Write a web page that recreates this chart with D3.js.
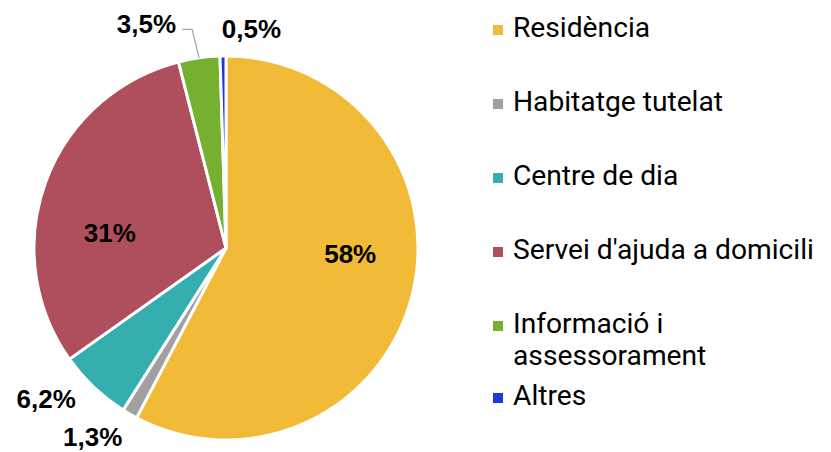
<!DOCTYPE html>
<html>
<head>
<meta charset="utf-8">
<script src="https://cdn.jsdelivr.net/npm/d3@7"></script>
<style>
  body { margin: 0; background: #fff; }
  svg { display: block; }
</style>
</head>
<body>
<div id="chart"></div>
<script>
// data
var categories = ["Residència", "Habitatge tutelat", "Centre de dia", "Servei d'ajuda a domicili", "Informació i assessorament", "Altres"];
var values = [58, 1.3, 6.2, 31, 3.5, 0.5];
var legendLines = [["Residència"], ["Habitatge tutelat"], ["Centre de dia"], ["Servei d'ajuda a domicili"], ["Informació i", "assessorament"], ["Altres"]];
var colors = ["#F1BA37", "#A0A0A0", "#34AEAE", "#AF4F5D", "#76B031", "#2036D8"];

var width = 831, height = 452;
var cx = 226, cy = 248, radius = 192;

var svg = d3.select("#chart")
  .append("svg")
    .attr("width", width)
    .attr("height", height);

var color = d3.scaleOrdinal().domain(categories).range(colors);

var pie = d3.pie()
    .sort(null)
    .value(function(d) { return d.value; });

var data = categories.map(function(c, i) { return {name: c, value: values[i]}; });
var arcs = pie(data);

var arc = d3.arc().innerRadius(0).outerRadius(radius);

var g = svg.append("g")
    .attr("transform", "translate(" + cx + "," + cy + ")");

g.selectAll("path")
  .data(arcs)
  .enter()
  .append("path")
    .attr("d", arc)
    .attr("fill", function(d) { return color(d.data.name); })
    .attr("stroke", "#fff")
    .attr("stroke-width", 3)
    .attr("stroke-linejoin", "round");

// number format with comma decimals
var fmt = function(v) {
  return (v >= 10 ? d3.format(".0f")(v) : d3.format(".1f")(v).replace(".", ",")) + "%";
};

// label placement: inside or outside, plus small nudges
var place = [
  {out: false, dx: 4, dy: -24},
  {out: true, dx: -17, dy: -12},
  {out: true, dx: -20, dy: -18},
  {out: false, dx: 0, dy: 27},
  {out: true, dx: -47, dy: 5, leader: true},
  {out: true, dx: 29, dy: 13}
];

var inArc = d3.arc().innerRadius(0).outerRadius(radius * 1.29);
var outArc = d3.arc().innerRadius(radius + 40).outerRadius(radius + 40);
var edgeArc = d3.arc().innerRadius(radius).outerRadius(radius);

arcs.forEach(function(d, i) {
  var p = place[i];
  var c = p.out ? outArc.centroid(d) : inArc.centroid(d);
  var x = c[0] + p.dx, y = c[1] + p.dy;
  var t = g.append("text")
    .attr("x", x)
    .attr("y", y)
    .attr("dy", "0.36em")
    .attr("text-anchor", "middle")
    .style("font-family", "'Liberation Sans', Arial, sans-serif")
    .style("font-weight", "bold")
    .style("font-size", "26px")
    .style("fill", "#000")
    .text(fmt(d.data.value));
  if (p.leader) {
    var bb = t.node().getBBox();
    var e = edgeArc.centroid(d);
    var right = bb.x + bb.width;
    g.append("polyline")
      .attr("points", [e, [right + 16, y + 6], [right + 6, y + 6]].map(function(q) { return q.join(","); }).join(" "))
      .attr("fill", "none")
      .attr("stroke", "#A6A6A6")
      .attr("stroke-width", 1.3);
  }
});

// legend
var legend = svg.append("g")
    .attr("transform", "translate(493, 37)");

var rowY = 0;
legendLines.forEach(function(lines, i) {
  var row = legend.append("g").attr("transform", "translate(0," + rowY + ")");
  row.append("rect")
    .attr("x", 0)
    .attr("y", -12)
    .attr("width", 10)
    .attr("height", 10)
    .attr("fill", color(categories[i]));
  var txt = row.append("text")
    .attr("x", 20)
    .attr("y", 0)
    .style("font-family", "Roboto, sans-serif")
    .style("font-size", "28.2px")
    .style("fill", "#000");
  lines.forEach(function(l, j) {
    txt.append("tspan")
      .attr("x", 20)
      .attr("y", j * 32)
      .text(l);
  });
  rowY += lines.length > 1 ? 72 : 74;
});
</script>
</body>
</html>
